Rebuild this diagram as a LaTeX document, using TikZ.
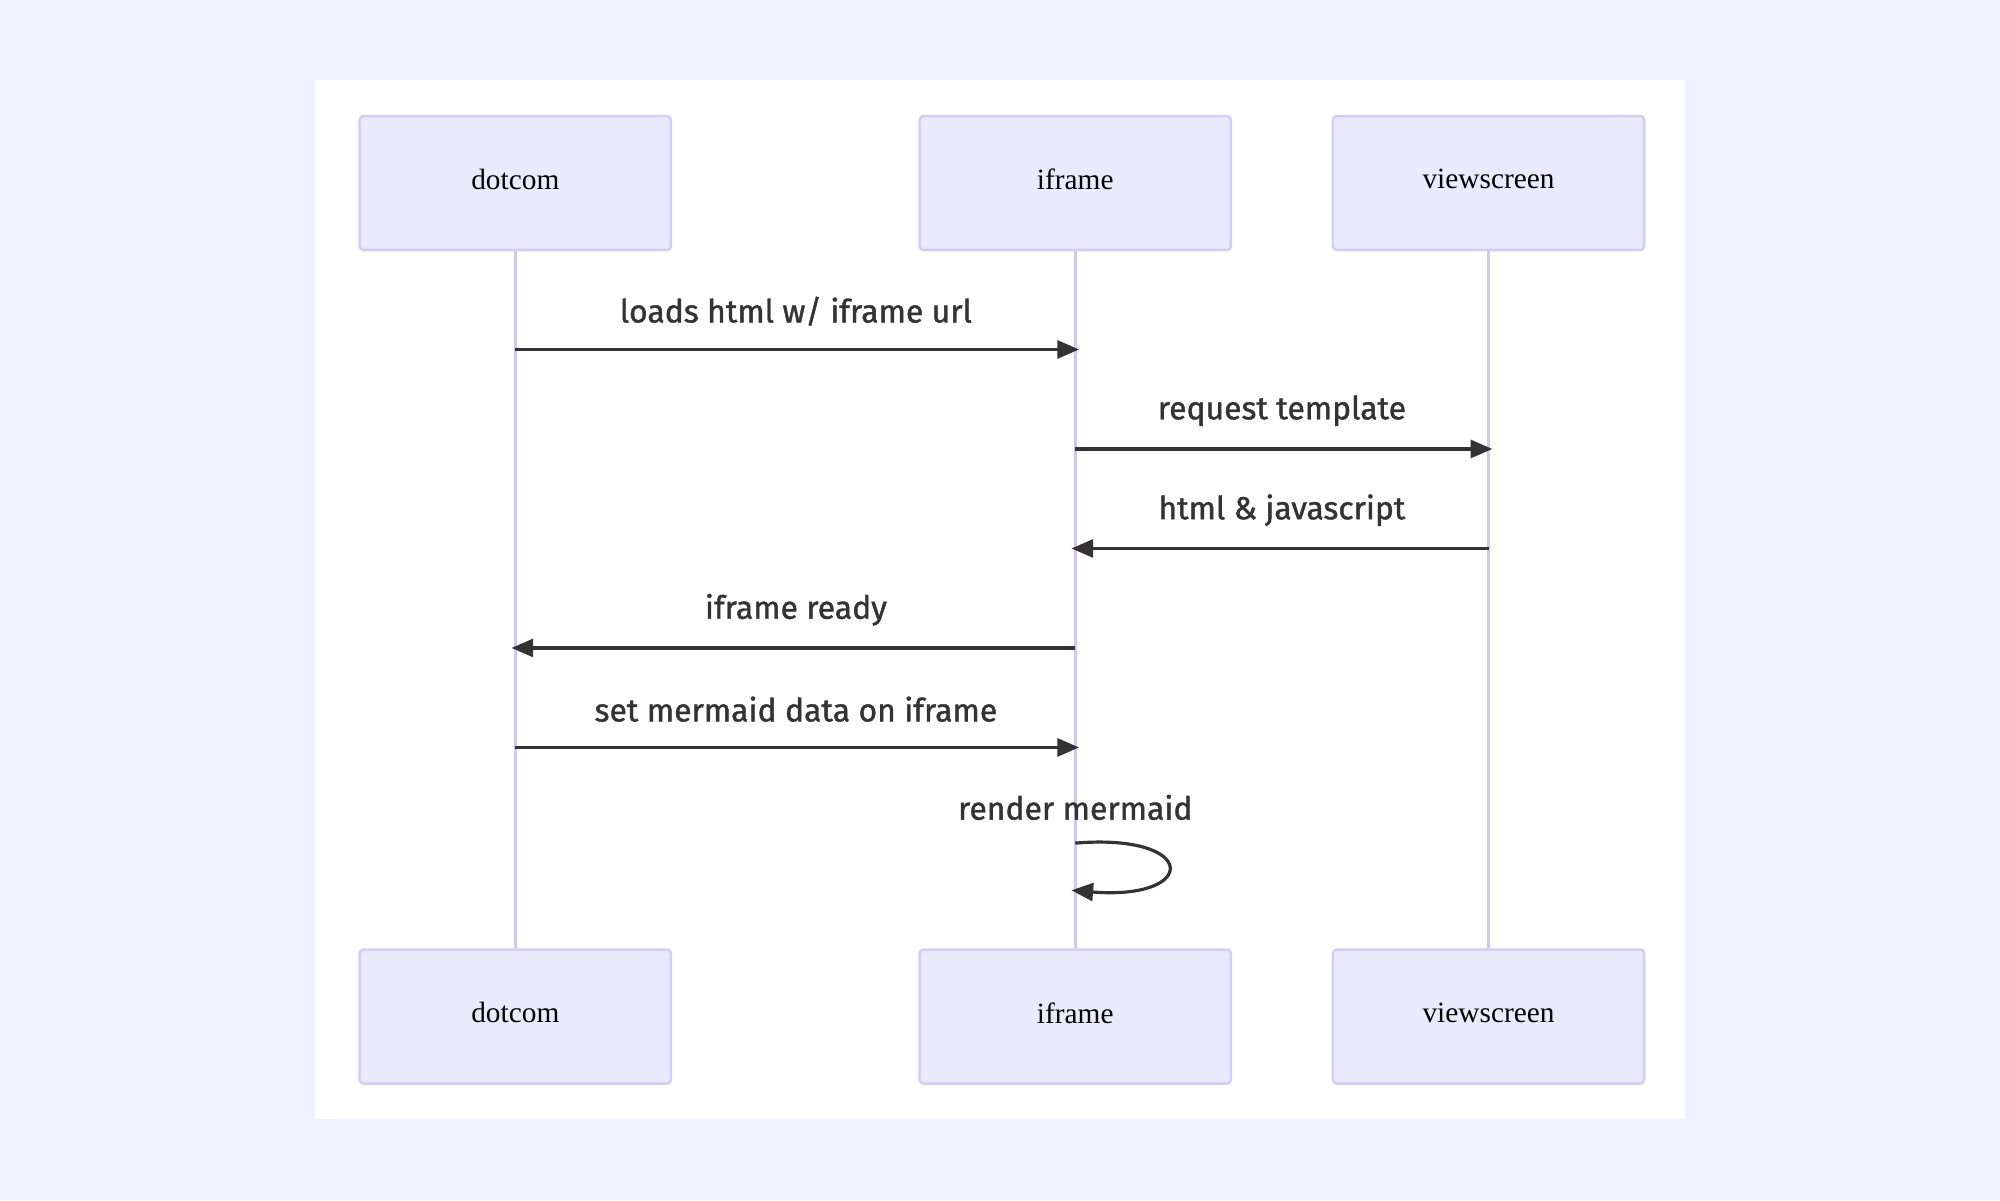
\documentclass[tikz,border=0pt]{standalone}
\usepackage{fontspec}
\newfontfamily\msgfont{Fira Sans}[FakeBold=1.2]
\newfontfamily\actfont{Liberation Serif}
\usetikzlibrary{arrows.meta,positioning}
\definecolor{bgblue}{HTML}{F0F3FF}
\definecolor{actfill}{HTML}{EAEAFC}
\definecolor{actline}{HTML}{D5CDF5}
\definecolor{lifeline}{HTML}{D2C6F2}
\definecolor{msgcol}{HTML}{333333}
\tikzset{
  actor/.style={draw=actline,fill=actfill,line width=2pt,rounded corners=3pt,
    minimum width=244pt,minimum height=105pt,inner sep=0pt,
    font=\actfont\fontsize{23}{26}\selectfont},
  life/.style={draw=lifeline,line width=2.5pt},
  msg/.style={draw=msgcol,line width=2.5pt,-{Triangle[length=17pt,width=14pt]}},
  lbl/.style={font=\msgfont\fontsize{25}{30}\selectfont,text=msgcol}
}
\newcommand\acttext[1]{\raisebox{6pt}{#1}}
\begin{document}
\begin{tikzpicture}[x=1pt,y=-1pt]
  \fill[bgblue] (0,0) rectangle (1568,941);
  \useasboundingbox (0,0) rectangle (1568,941);
  \fill[white] (247,63) rectangle (1321,877);

  % lifelines
  \draw[life] (404,196) -- (404,744);
  \draw[life] (843,196) -- (843,744);
  \draw[life] (1167,196) -- (1167,744);

  % actors
  \node[actor] (dotTop) at (404,143.5) {\acttext{dotcom}};
  \node[actor] (ifrTop) at (843,143.5) {\acttext{iframe}};
  \node[actor] (vsTop) at (1167,143.5) {\acttext{viewscreen}};
  \node[actor] (dotBot) at (404,797) {\acttext{dotcom}};
  \node[actor] (ifrBot) at (843,797) {\acttext{iframe}};
  \node[actor] (vsBot) at (1167,797) {\acttext{viewscreen}};

  % message points
  \coordinate (d1) at (404,274);  \coordinate (i1) at (846,274);
  \coordinate (i2) at (843,352);  \coordinate (v2) at (1170,352);
  \coordinate (v3) at (1167,430); \coordinate (i3) at (840,430);
  \coordinate (i4) at (843,508);  \coordinate (d4) at (401,508);
  \coordinate (d5) at (404,586);  \coordinate (i5) at (846,586);
  \coordinate (i6) at (843,661);  \coordinate (i6b) at (840,698);

  \draw[msg] (d1) -- (i1);
  \draw[msg] (i2) -- (v2);
  \draw[msg] (v3) -- (i3);
  \draw[msg] (i4) -- (d4);
  \draw[msg] (d5) -- (i5);
  \draw[msg] (i6) .. controls (940,653) and (940,706) .. (i6b);

  % labels
  \node[lbl] (m1) at (624,244) {loads html w/ iframe url};
  \node[lbl] (m2) at (1005,322) {request template};
  \node[lbl] (m3) at (1005,400) {html \& javascript};
  \node[lbl] (m4) at (624,478) {iframe ready};
  \node[lbl] (m5) at (624,556) {set mermaid data on iframe};
  \node[lbl] (m6) at (843,633) {render mermaid};
\end{tikzpicture}
\end{document}
